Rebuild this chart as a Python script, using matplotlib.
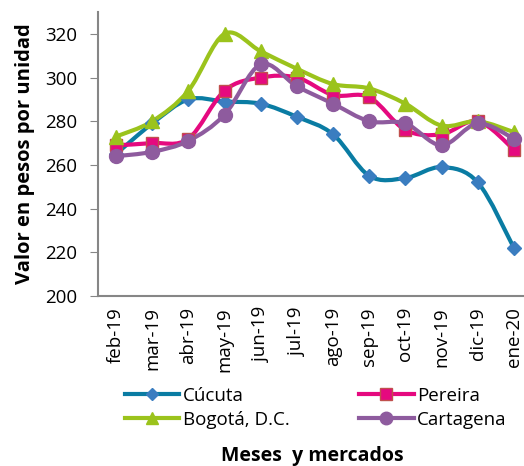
import numpy as np
import matplotlib
matplotlib.use("Agg")
import matplotlib.pyplot as plt
from matplotlib.path import Path
from matplotlib.patches import PathPatch
from matplotlib.lines import Line2D

plt.rcParams['font.family'] = ['Open Sans', 'DejaVu Sans']

months = ["feb-19", "mar-19", "abr-19", "may-19", "jun-19", "jul-19",
          "ago-19", "sep-19", "oct-19", "nov-19", "dic-19", "ene-20"]
cucuta = [265, 279, 290, 289, 288, 282, 274, 255, 254, 259, 252, 222]
pereira = [269, 270, 272, 294, 300, 300, 292, 291, 276, 274, 280, 267]
bogota = [273, 280, 294, 320, 312, 304, 297, 295, 288, 278, 280, 275]
cartagena = [264, 266, 271, 283, 306, 296, 288, 280, 279, 269, 279, 272]

series = [
    ("Cúcuta", cucuta, "#0A7CA3", "D", "#3A7DC0", "#3A7DC0", 7),
    ("Pereira", pereira, "#E5097F", "s", "#E5097F", "#C0504D", 9),
    ("Bogotá, D.C.", bogota, "#9BC31C", "^", "#9BC31C", "#9BC31C", 10),
    ("Cartagena", cartagena, "#8E5B9E", "o", "#8E5B9E", "#8E5B9E", 10),
]

fig = plt.figure(figsize=(5.24, 4.66), dpi=100)
ax = fig.add_axes([98 / 524, 170 / 466, 434 / 524, 284 / 466])

x = np.arange(len(months))


def smooth_path(xs, ys, t=1 / 6):
    # Excel-like smoothed line: cubic Bezier segments through the data points
    xs = np.asarray(xs, float)
    ys = np.asarray(ys, float)
    n = len(xs)
    verts = [(xs[0], ys[0])]
    codes = [Path.MOVETO]
    for i in range(n - 1):
        p0 = (xs[max(i - 1, 0)], ys[max(i - 1, 0)])
        p1 = (xs[i], ys[i])
        p2 = (xs[i + 1], ys[i + 1])
        p3 = (xs[min(i + 2, n - 1)], ys[min(i + 2, n - 1)])
        c1 = (p1[0] + (p2[0] - p0[0]) * t, p1[1] + (p2[1] - p0[1]) * t)
        c2 = (p2[0] - (p3[0] - p1[0]) * t, p2[1] - (p3[1] - p1[1]) * t)
        verts += [c1, c2, p2]
        codes += [Path.CURVE4] * 3
    return Path(verts, codes)


handles = []
for name, vals, lc, mk, mfc, mec, ms in series:
    patch = PathPatch(smooth_path(x, vals), facecolor="none", edgecolor=lc,
                      lw=3, capstyle="round", joinstyle="round")
    ax.add_patch(patch)
    ax.plot(x, vals, linestyle="none", marker=mk, markersize=ms,
            markerfacecolor=mfc, markeredgecolor=mec, markeredgewidth=1)
    handles.append(Line2D([], [], color=lc, lw=3, marker=mk, markersize=ms - 1,
                          markerfacecolor=mfc, markeredgecolor=mec, label=name))

ax.set_xlim(-0.5, len(months) - 0.5)
ax.set_ylim(200, 330)
ax.set_yticks(np.arange(200, 321, 20))
ax.set_xticks(x)
ax.set_xticklabels(months, rotation=90, fontsize=13.5)
ax.tick_params(axis="x", length=0, pad=8)
ax.tick_params(axis="y", labelsize=13.5, length=6, color="#868686", direction="out", pad=9)

for s in ["top", "right"]:
    ax.spines[s].set_visible(False)
for s in ["left", "bottom"]:
    ax.spines[s].set_color("#868686")
    ax.spines[s].set_linewidth(1.5)

ax.set_ylabel("Valor en pesos por unidad", fontsize=14.5, fontweight="bold", labelpad=7)

order = [handles[0], handles[2], handles[1], handles[3]]
fig.legend(handles=order, loc="upper left", bbox_to_anchor=(125 / 524, 1 - 387 / 466),
           ncol=2, frameon=False, fontsize=13.5, handlelength=2.9, columnspacing=3.7,
           handletextpad=0.2, labelspacing=0.32, borderaxespad=0, borderpad=0)

fig.text(312 / 524, 1 - 456 / 466, "Meses  y mercados", ha="center", va="center",
         fontsize=14, fontweight="bold")

fig.savefig("out.png", dpi=100)
